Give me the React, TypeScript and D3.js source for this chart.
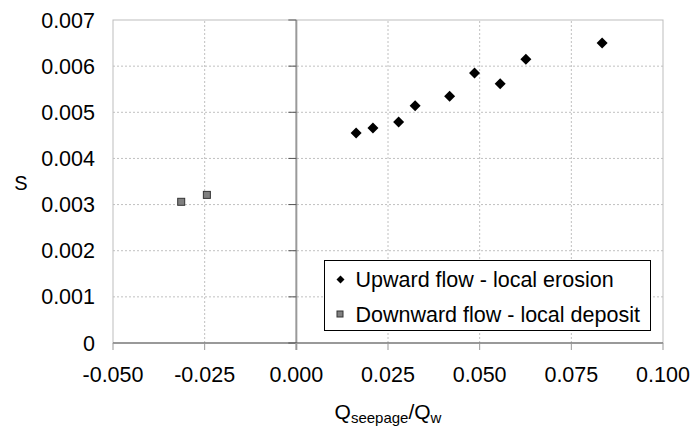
import React, { useEffect, useRef } from "react";
import * as d3 from "d3";

// Upward flow - local erosion
const upX = [0.0163, 0.0209, 0.0279, 0.0324, 0.0418, 0.0486, 0.0556, 0.0626, 0.0834];
const upS = [0.00455, 0.00466, 0.00479, 0.00514, 0.00535, 0.00585, 0.00562, 0.00615, 0.0065];
// Downward flow - local deposit
const downX = [-0.0314, -0.0244];
const downS = [0.00306, 0.00321];

const xTicks = [-0.05, -0.025, 0, 0.025, 0.05, 0.075, 0.1];
const yTicks = [0, 0.001, 0.002, 0.003, 0.004, 0.005, 0.006, 0.007];
const legendLabels = ["Upward flow - local erosion", "Downward flow - local deposit"];

const width = 693;
const height = 435;
const margin = { top: 20, right: 30, bottom: 92, left: 113 };

// square diamond, r = half diagonal
const diamondPath = (r: number) => `M0,${-r}L${r},0L0,${r}L${-r},0Z`;
const fmt = (d: number) => d3.format(".3f")(d).replace("\u2212", "-");

const App = () => {
  const ref = useRef<SVGSVGElement>(null);

  useEffect(() => {
    const svg = d3.select(ref.current);
    svg.selectAll("*").remove();

    const x = d3.scaleLinear().domain([-0.05, 0.1]).range([margin.left, width - margin.right]);
    const y = d3.scaleLinear().domain([0, 0.007]).range([height - margin.bottom, margin.top]);
    const font = "'Liberation Sans', Arial, sans-serif";

    // grid
    svg.append("g")
      .selectAll("line")
      .data(yTicks.filter((d) => d > 0 && d < 0.007))
      .join("line")
      .attr("x1", x(-0.05)).attr("x2", x(0.1))
      .attr("y1", (d) => y(d)).attr("y2", (d) => y(d))
      .attr("stroke", "#c0c0c0").attr("stroke-dasharray", "2,2");
    svg.append("g")
      .selectAll("line")
      .data(xTicks.filter((d) => d !== 0 && d > -0.05 && d < 0.1))
      .join("line")
      .attr("x1", (d) => x(d)).attr("x2", (d) => x(d))
      .attr("y1", y(0)).attr("y2", y(0.007))
      .attr("stroke", "#c0c0c0").attr("stroke-dasharray", "2,2");

    // plot border
    svg.append("rect")
      .attr("x", x(-0.05)).attr("y", y(0.007))
      .attr("width", x(0.1) - x(-0.05)).attr("height", y(0) - y(0.007))
      .attr("fill", "none").attr("stroke", "#bdbdbd");

    // y axis at x=0
    svg.append("line")
      .attr("x1", x(0)).attr("x2", x(0))
      .attr("y1", y(0)).attr("y2", y(0.007))
      .attr("stroke", "#9a9a9a").attr("stroke-width", 2);
    svg.append("g")
      .selectAll("line")
      .data(yTicks)
      .join("line")
      .attr("x1", x(0) - 8).attr("x2", x(0))
      .attr("y1", (d) => y(d)).attr("y2", (d) => y(d))
      .attr("stroke", "#555");

    // x axis
    svg.append("line")
      .attr("x1", x(-0.05)).attr("x2", x(0.1))
      .attr("y1", y(0)).attr("y2", y(0))
      .attr("stroke", "#555");
    svg.append("g")
      .selectAll("line")
      .data(xTicks)
      .join("line")
      .attr("x1", (d) => x(d)).attr("x2", (d) => x(d))
      .attr("y1", y(0)).attr("y2", y(0) + 7)
      .attr("stroke", (d) => (d === 0 ? "#9a9a9a" : "#999"))
      .attr("stroke-width", (d) => (d === 0 ? 2 : 1));

    // tick labels
    svg.append("g")
      .attr("font-family", font).attr("font-size", 21.5).attr("fill", "#000")
      .selectAll("text")
      .data(yTicks)
      .join("text")
      .attr("x", 95).attr("y", (d) => y(d))
      .attr("dy", "0.35em").attr("text-anchor", "end")
      .text((d) => (d === 0 ? "0" : fmt(d)));
    svg.append("g")
      .attr("font-family", font).attr("font-size", 21.5).attr("fill", "#000")
      .selectAll("text")
      .data(xTicks)
      .join("text")
      .attr("x", (d) => x(d)).attr("y", 382)
      .attr("text-anchor", "middle")
      .text((d) => fmt(d));

    // axis titles
    svg.append("text")
      .attr("x", 21).attr("y", 190)
      .attr("font-family", font).attr("font-size", 20)
      .attr("text-anchor", "middle").text("S");
    const xt = svg.append("text")
      .attr("x", (x(-0.05) + x(0.1)) / 2).attr("y", 419)
      .attr("font-family", font).attr("font-size", 21)
      .attr("text-anchor", "middle");
    xt.append("tspan").text("Q");
    xt.append("tspan").attr("font-size", 15).attr("dy", 4).text("seepage");
    xt.append("tspan").attr("dy", -4).text("/Q");
    xt.append("tspan").attr("font-size", 15).attr("dy", 4).text("w");

    // series
    svg.append("g")
      .selectAll("path")
      .data(d3.zip(upX, upS))
      .join("path")
      .attr("transform", (d) => `translate(${x(d[0])},${y(d[1])})`)
      .attr("d", diamondPath(5.5))
      .attr("fill", "#000");
    svg.append("g")
      .selectAll("rect")
      .data(d3.zip(downX, downS))
      .join("rect")
      .attr("x", (d) => x(d[0]) - 3.5).attr("y", (d) => y(d[1]) - 3.5)
      .attr("width", 7).attr("height", 7)
      .attr("fill", "#808080").attr("stroke", "#333").attr("stroke-width", 1);

    // legend
    const lg = svg.append("g").attr("transform", "translate(324.5,260.5)");
    lg.append("rect")
      .attr("width", 326).attr("height", 70)
      .attr("fill", "#fff").attr("stroke", "#000");
    lg.append("path")
      .attr("transform", "translate(16,19)")
      .attr("d", diamondPath(4))
      .attr("fill", "#000");
    lg.append("rect")
      .attr("x", 12.5).attr("y", 50.5).attr("width", 6).attr("height", 6)
      .attr("fill", "#808080").attr("stroke", "#333");
    lg.selectAll("text")
      .data(legendLabels)
      .join("text")
      .attr("x", 31).attr("y", (d, i) => 26 + i * 35)
      .attr("font-family", font).attr("font-size", 21.5)
      .text((d) => d);
  }, []);

  return (
    <svg
      ref={ref}
      width={width}
      height={height}
      style={{ position: "absolute", left: 0, top: 0, background: "#fff" }}
    />
  );
};

export default App;
